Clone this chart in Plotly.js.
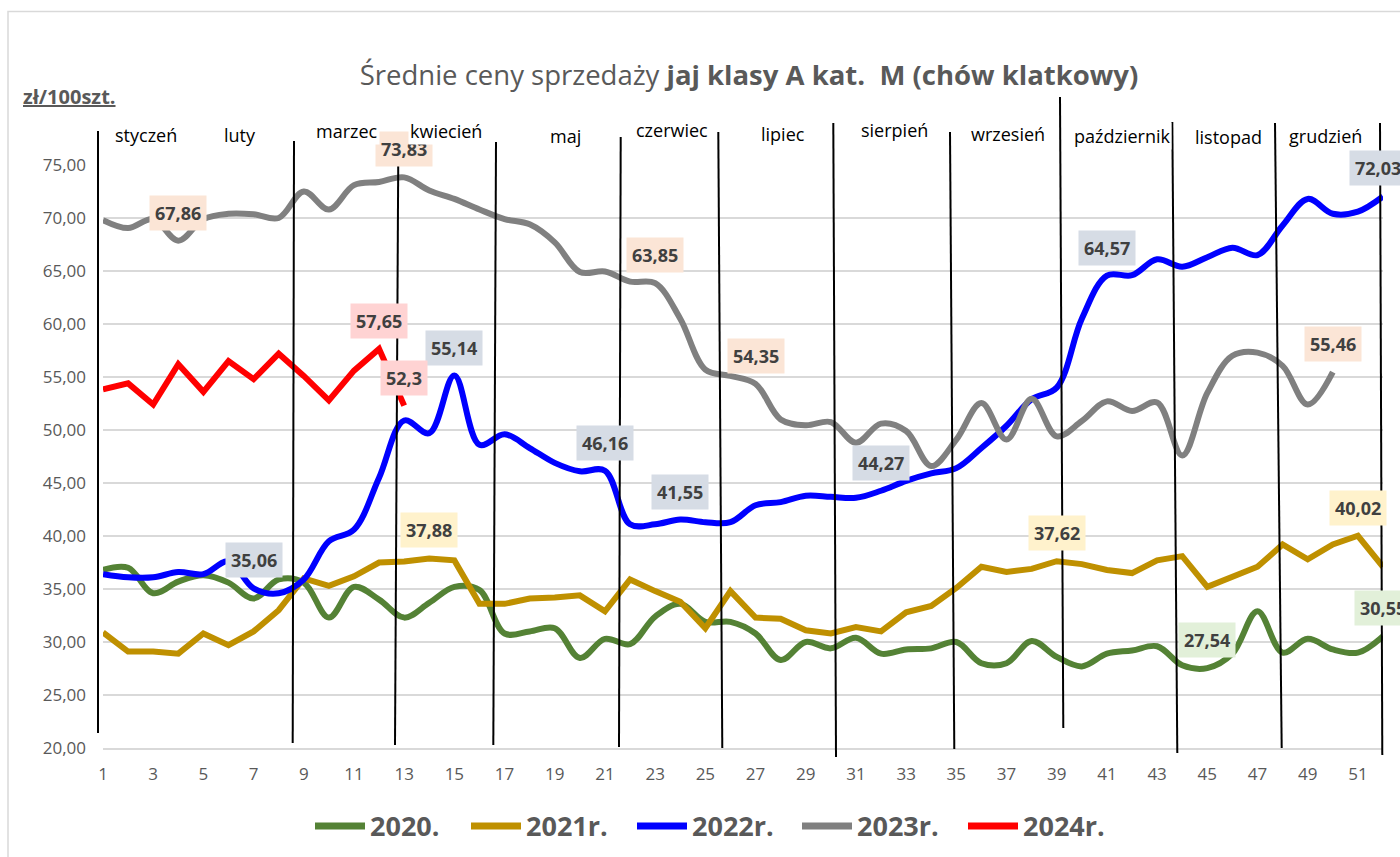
<!DOCTYPE html>
<html>
<head>
<meta charset="utf-8">
<script src="https://cdn.plot.ly/plotly-3.0.1.min.js"></script>
<style>html,body{margin:0;padding:0;background:#fff;}</style>
</head>
<body>
<div id="chart" style="width:1400px;height:857px;"></div>
<script>
// ---------------- DATA ----------------
const weeks = [1,2,3,4,5,6,7,8,9,10,11,12,13,14,15,16,17,18,19,20,21,22,23,24,25,26,
               27,28,29,30,31,32,33,34,35,36,37,38,39,40,41,42,43,44,45,46,47,48,49,50,51,52];
const tickWeeks = [1,3,5,7,9,11,13,15,17,19,21,23,25,27,29,31,33,35,37,39,41,43,45,47,49,51];
const yTicks = [20,25,30,35,40,45,50,55,60,65,70,75];

const values2020 = [36.8,37.0,34.6,35.7,36.3,35.6,34.1,35.9,35.6,32.3,35.2,34.0,32.3,33.7,35.2,34.9,
                    30.8,31.0,31.3,28.5,30.3,29.8,32.4,33.6,31.9,31.9,30.8,28.3,30.0,29.4,30.4,28.9,
                    29.3,29.4,30.0,28.0,28.0,30.1,28.6,27.7,28.9,29.2,29.6,27.8,27.54,28.9,32.9,29.0,
                    30.3,29.3,29.0,30.55];
const values2021 = [30.9,29.1,29.1,28.9,30.8,29.7,31.0,33.0,36.0,35.3,36.2,37.5,37.6,37.88,37.7,33.6,
                    33.6,34.1,34.2,34.4,32.9,35.9,34.8,33.8,31.3,34.8,32.3,32.2,31.1,30.8,31.4,31.0,
                    32.8,33.4,35.1,37.1,36.6,36.9,37.62,37.35,36.8,36.5,37.7,38.1,35.2,36.2,37.1,39.2,
                    37.8,39.2,40.02,37.1];
const values2022 = [36.4,36.1,36.1,36.6,36.4,37.6,35.06,34.6,35.9,39.5,40.6,45.5,50.9,49.7,55.14,48.6,
                    49.6,48.3,46.9,46.1,46.16,41.1,41.1,41.55,41.3,41.3,42.9,43.2,43.8,43.7,43.6,44.27,
                    45.2,45.9,46.4,48.3,50.4,52.9,54.0,60.5,64.57,64.6,66.1,65.4,66.3,67.2,66.5,69.3,
                    71.8,70.4,70.6,72.03];
const values2023 = [69.8,69.05,69.9,67.86,69.9,70.4,70.35,70.0,72.5,70.8,73.1,73.4,73.83,72.6,71.8,70.8,
                    69.9,69.4,67.7,64.9,64.95,64.0,63.85,60.5,55.7,55.1,54.35,51.0,50.45,50.75,48.8,50.6,
                    49.9,46.6,49.1,52.55,49.1,52.95,49.4,50.85,52.7,51.8,52.6,47.6,53.5,57.0,57.3,56.05,
                    52.4,55.46];
const values2024 = [53.83,54.4,52.4,56.2,53.6,56.5,54.8,57.2,55.1,52.8,55.6,57.65,52.3];

const seriesNames = ['2020.','2021r.','2022r.','2023r.','2024r.'];

// weeks that carry a value label
const labelWeeks2020 = [45,52];
const labelWeeks2021 = [14,39,51];
const labelWeeks2022 = [7,15,21,24,32,41,52];
const labelWeeks2023 = [4,13,23,27,50];
const labelWeeks2024 = [12,13];

const monthNames = ['styczeń','luty','marzec','kwiecień','maj','czerwiec','lipiec',
                    'sierpień','wrzesień','październik','listopad','grudzień'];

// ---------------- STYLE / LAYOUT ----------------
const FONT = 'Open Sans, Noto Sans, sans-serif';
const series = [
  {name: seriesNames[0], y: values2020, color:'#548235', shape:'spline', labels: labelWeeks2020, bg:'#E2F0D9'},
  {name: seriesNames[1], y: values2021, color:'#BF9000', shape:'linear', labels: labelWeeks2021, bg:'#FFF2CC'},
  {name: seriesNames[2], y: values2022, color:'#0000FF', shape:'spline', labels: labelWeeks2022, bg:'#D6DCE5'},
  {name: seriesNames[3], y: values2023, color:'#808080', shape:'spline', labels: labelWeeks2023, bg:'#FBE5D6'},
  {name: seriesNames[4], y: values2024, color:'#FF0000', shape:'linear', labels: labelWeeks2024, bg:'#FFD3D3'}
];

// plot area in pixels
const PL = 103, PR = 1383, PT = 165, PB = 748;
const px = x => (x - PL) / (PR - PL);
const py = y => (PB - y) / (PB - PT);

const traces = series.map(s => ({
  type: 'scatter', mode: 'lines', name: s.name,
  x: weeks.slice(0, s.y.length), y: s.y,
  line: {color: s.color, width: 6, shape: s.shape, smoothing: 1},
  hoverinfo: 'skip', showlegend: false
}));

const annotations = [];
const fmt = v => String(v).replace('.', ',');

// value labels
series.forEach(s => {
  s.labels.forEach(w => {
    annotations.push({
      xref: 'x', yref: 'y', x: w, y: s.y[w - 1],
      xanchor: 'center', yanchor: 'middle',
      text: '<b>' + fmt(s.y[w - 1]) + '</b>',
      showarrow: false, yshift: 28, xshift: (w === 52 && s.name === '2022r.') ? -5 : 0,
      bgcolor: s.bg, borderpad: 5,
      font: {family: FONT, size: 18, color: '#404040'}
    });
  });
});

// month labels (pixel positions of the decoration)
const monthPos = [[146,135],[240,135],[347,131],[446,131],[565,136],[672,130],
                  [783,134],[894,130],[1008,134],[1122,136],[1228,137],[1325,136]];
monthNames.forEach((m, i) => {
  annotations.push({
    xref: 'paper', yref: 'paper', x: px(monthPos[i][0]), y: py(monthPos[i][1]),
    xanchor: 'center', yanchor: 'middle',
    text: m, showarrow: false, bgcolor: '#FFFFFF', borderpad: 1,
    font: {family: FONT, size: 18, color: '#000000'}
  });
});

// unit label
annotations.push({
  xref: 'paper', yref: 'paper', x: px(21), y: py(97), xanchor: 'left', yanchor: 'middle',
  text: '<b><u>zł/100szt.</u></b>', showarrow: false,
  font: {family: FONT, size: 20, color: '#595959'}
});

// legend (manual)
const legendSwatchX = [315, 471, 637, 802, 968];
const shapes = [];
series.forEach((s, i) => {
  shapes.push({type:'line', xref:'paper', yref:'paper',
    x0: px(legendSwatchX[i]), x1: px(legendSwatchX[i] + 50), y0: py(826), y1: py(826),
    line: {color: s.color, width: 7}});
  annotations.push({
    xref:'paper', yref:'paper', x: px(legendSwatchX[i] + 53), y: py(826),
    xanchor:'left', yanchor:'middle',
    text: '<b>' + s.name + '</b>', showarrow:false,
    font: {family: FONT, size: 27, color: '#595959'}
  });
});

// month divider lines (hand drawn, pixel coords)
const dividers = [[98,131,98,733],[294,141,292.7,743],[398.3,150,395,745],[496,142,493.3,745],
                  [620.7,137,619,747],[718.3,132,722.3,748],[833.3,123,836,757],[950,132,954.3,749],
                  [1060,97,1063.3,728],[1172.3,122,1177.3,753],[1275,123,1281.7,748],[1380,123,1382.3,755]];
dividers.forEach(d => {
  shapes.push({type:'line', xref:'paper', yref:'paper', layer:'above',
    x0: px(d[0]), y0: py(d[1]), x1: px(d[2]), y1: py(d[3]),
    line: {color:'#000000', width: 2}});
});

// chart border
shapes.push({type:'rect', xref:'paper', yref:'paper', layer:'below',
  x0: px(8), y0: py(900), x1: px(1450), y1: py(11.5),
  line: {color:'#D9D9D9', width: 1.5}, fillcolor:'rgba(0,0,0,0)'});

const layout = {
  width: 1400, height: 857,
  margin: {l: PL, r: 1400 - PR, t: PT, b: 857 - PB, pad: 0},
  paper_bgcolor: '#FFFFFF', plot_bgcolor: '#FFFFFF',
  separators: ', ',
  showlegend: false,
  title: {
    text: 'Średnie ceny sprzedaży <b>jaj klasy A kat.  M (chów klatkowy)</b>',
    xref: 'paper', x: px(749), xanchor: 'center',
    yref: 'container', y: 1 - 75 / 857, yanchor: 'middle',
    font: {family: FONT, size: 27.5, color: '#595959'}
  },
  xaxis: {
    range: [1, 52], tickmode: 'array', tickvals: tickWeeks,
    showgrid: false, zeroline: false, showline: true, linecolor: '#D9D9D9', linewidth: 1.5,
    ticks: '', ticklabelstandoff: 10,
    tickfont: {family: FONT, size: 17, color: '#595959'}, fixedrange: true
  },
  yaxis: {
    range: [20, 75], tickmode: 'array', tickvals: yTicks, tickformat: '.2f',
    showgrid: true, gridcolor: '#D9D9D9', gridwidth: 1.5, zeroline: false, showline: false,
    ticks: '', ticklabelstandoff: 16,
    tickfont: {family: FONT, size: 17, color: '#595959'}, fixedrange: true
  },
  annotations: annotations,
  shapes: shapes
};

Plotly.newPlot('chart', traces, layout, {displayModeBar: false, staticPlot: true});
</script>
</body>
</html>
